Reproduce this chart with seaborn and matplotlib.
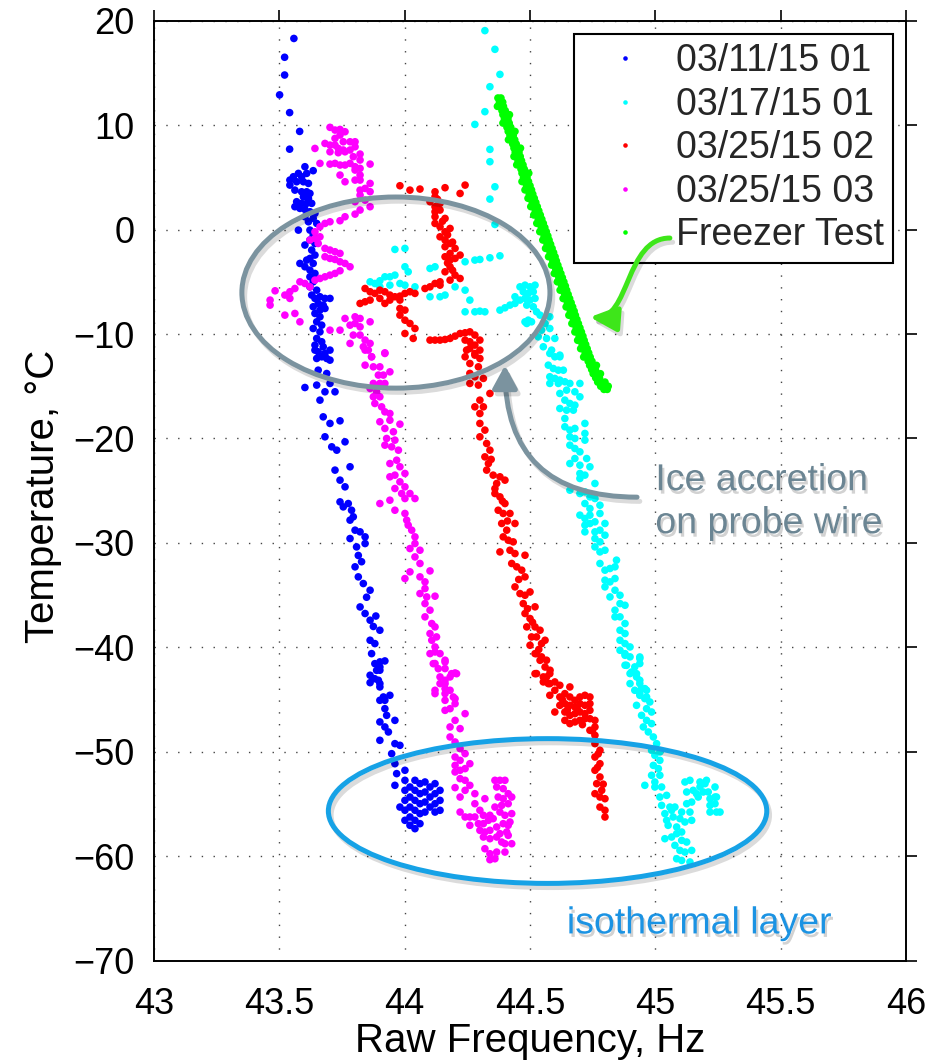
import matplotlib
matplotlib.use("Agg")
import matplotlib.pyplot as plt
import matplotlib.patheffects as pe
from matplotlib.patches import Ellipse, FancyArrowPatch
from matplotlib.path import Path
import pandas as pd
import seaborn as sns

sns.set_theme(style="white")
plt.rcParams['font.family'] = ['Liberation Sans', 'DejaVu Sans']

series_names = ["03/11/15 01", "03/17/15 01", "03/25/15 02", "03/25/15 03", "Freezer Test"]
series_colors = ["#0000ff", "#00ffff", "#ff0000", "#ff00ff", "#00ff00"]

xticks = [43, 43.5, 44, 44.5, 45, 45.5, 46]
xtick_labels = ["43", "43.5", "44", "44.5", "45", "45.5", "46"]
yticks = [-70, -60, -50, -40, -30, -20, -10, 0, 10, 20]
ytick_labels = ["\u221270", "\u221260", "\u221250", "\u221240", "\u221230", "\u221220", "\u221210", "0", "10", "20"]

# ---- 03/11/15 01 (blue): (frequency Hz, temperature C)
blue_pts = [
    (43.558, 18.3), (43.521, 16.5), (43.521, 14.8), (43.501, 12.9), (43.541, 11.2), (43.581, 9.4), (43.541, 7.7),
    (43.602, 6.02), (43.635, 5.64), (43.609, 5.38), (43.576, 5.38), (43.556, 5.06), (43.589, 5.06), (43.542, 4.74),
    (43.569, 4.58), (43.596, 4.58), (43.616, 4.42), (43.542, 4.26), (43.562, 3.78), (43.589, 3.62), (43.609, 3.62),
    (43.622, 3.46), (43.596, 3.14), (43.616, 2.99), (43.569, 2.67), (43.589, 2.51), (43.609, 2.51), (43.629, 2.51),
    (43.562, 2.19), (43.582, 2.03), (43.602, 1.93), (43.622, 1.71), (43.642, 1.55), (43.602, 1.23), (43.635, 1.07),
    (43.616, 0.75), (43.649, 0.59), (43.576, -0.05), (43.622, -0.05), (43.635, -0.53),
    (43.622, -1.0), (43.642, -1.33), (43.602, -1.48), (43.629, -1.96), (43.642, -2.44), (43.622, -2.76), (43.609, -2.92),
    (43.582, -3.24), (43.635, -3.24), (43.602, -3.56), (43.622, -3.88), (43.642, -4.2), (43.622, -4.52), (43.635, -5.0),
    (43.622, -5.48), (43.649, -5.8), (43.629, -6.27), (43.642, -6.59), (43.662, -6.43), (43.682, -6.59), (43.702, -6.59),
    (43.655, -7.07), (43.675, -7.23), (43.635, -7.39), (43.662, -7.71), (43.682, -7.55), (43.642, -8.03), (43.662, -8.35),
    (43.649, -8.83), (43.669, -9.15), (43.635, -9.47), (43.662, -9.79), (43.649, -10.42), (43.669, -10.74), (43.642, -11.06),
    (43.675, -11.22), (43.655, -11.7), (43.682, -11.86), (43.702, -11.54), (43.649, -12.34), (43.689, -12.34),
    (43.642, -11.54), (43.669, -12.18), (43.702, -12.5), (43.655, -13.46), (43.689, -13.78), (43.702, -14.73),
    (43.649, -14.89), (43.682, -15.53), (43.722, -15.53), (43.602, -15.12),
    (43.662, -16.33), (43.675, -17.93), (43.702, -18.56), (43.742, -18.31), (43.682, -19.84), (43.709, -20.80),
    (43.729, -21.12), (43.762, -20.32), (43.782, -22.71), (43.722, -23.03), (43.742, -23.99), (43.762, -24.63),
    (43.742, -26.07), (43.755, -26.55), (43.775, -26.23), (43.788, -26.87), (43.782, -27.82), (43.802, -28.78),
    (43.822, -28.94), (43.842, -29.42), (43.782, -29.58), (43.808, -30.38), (43.842, -30.06), (43.802, -32.29),
    (43.815, -33.25), (43.835, -33.89), (43.862, -34.53), (43.822, -36.13), (43.842, -36.76), (43.862, -37.40),
    (43.901, -38.36), (43.862, -39.32), (43.881, -39.64), (43.868, -40.6), (43.901, -41.39), (43.921, -41.3),
    (43.862, -42.67), (43.901, -42.19), (43.901, -43.47), (43.915, -44.75), (43.941, -44.59),
    (43.795, -27.5), (43.815, -31.2), (43.828, -31.8), (43.848, -35.2), (43.875, -38.0), (43.885, -37.0), (43.88, -43.0),
    (43.881, -41.56), (43.901, -41.88), (43.888, -42.2), (43.895, -43.15), (43.862, -43.38), (43.901, -43.79),
    (43.901, -45.07), (43.921, -45.07), (43.921, -45.87), (43.928, -46.51), (43.901, -47.14), (43.961, -46.99),
    (43.921, -47.62), (43.935, -48.1), (43.901, -48.9), (43.961, -49.22), (43.981, -49.38), (43.948, -50.18),
    (43.961, -51.14), (43.968, -52.09), (43.961, -53.21),
    (44.001, -51.77), (44.001, -52.73), (44.001, -53.69), (44.001, -54.65), (44.001, -55.6), (44.001, -56.56),
    (43.981, -55.29), (44.021, -53.37), (44.021, -54.33), (44.021, -55.29), (44.021, -56.24), (44.021, -57.04),
    (44.041, -52.73), (44.041, -53.69), (44.041, -54.65), (44.041, -55.6), (44.041, -56.56), (44.041, -57.36),
    (44.061, -53.05), (44.061, -54.01), (44.061, -54.97), (44.061, -55.92), (44.061, -56.88),
    (44.081, -52.89), (44.081, -53.85), (44.081, -54.81), (44.081, -55.77),
    (44.101, -53.37), (44.101, -54.33), (44.101, -55.29),
    (44.121, -53.05), (44.121, -54.01), (44.121, -54.97), (44.121, -55.77),
    (44.141, -53.69), (44.141, -54.65), (44.141, -55.6),
]

# ---- 03/17/15 01 (cyan)
cyan_pts = [
    (44.32, 19.05), (44.36, 17.26), (44.38, 14.86), (44.34, 13.68), (44.32, 11.29), (44.28, 10.07), (44.34, 7.68),
    (44.34, 6.5), (44.36, 4.10), (44.34, 2.92), (44.36, 0.49),
    (43.961, -1.9), (44.001, -1.8), (44.241, -3.08), (44.28, -2.92), (44.30, -2.86), (44.34, -2.7), (44.38, -2.51),
    (44.001, -3.56), (44.014, -4.04), (44.101, -3.72), (44.121, -3.56), (43.862, -5.0), (43.901, -4.9), (43.921, -4.52),
    (43.941, -4.52), (43.961, -4.36), (43.901, -5.48), (43.941, -5.32), (43.981, -5.16), (44.001, -5.32), (44.041, -5.48),
    (43.881, -5.16), (44.101, -6.43), (44.141, -6.43), (44.161, -6.27), (44.201, -5.48), (44.241, -5.8), (44.26, -6.75),
    (44.241, -7.87), (44.28, -7.87), (44.30, -7.81), (44.32, -7.87), (44.38, -7.71), (44.4, -7.49), (44.42, -7.23),
    (44.44, -7.07), (44.46, -6.75), (44.487, -8.99), (44.506, -8.83),
    (44.46, -5.48), (44.48, -5.32), (44.5, -5.48), (44.52, -5.32), (44.473, -5.95), (44.493, -6.11), (44.513, -5.95),
    (44.48, -6.59), (44.5, -6.75), (44.52, -6.59), (44.487, -7.23), (44.513, -7.39), (44.526, -7.87), (44.44, -6.43),
    (44.493, -8.67), (44.48, -8.83), (44.54, -8.19), (44.579, -8.35), (44.56, -8.99), (44.546, -9.63), (44.579, -9.47),
    (44.533, -10.27), (44.566, -10.42), (44.599, -10.42), (44.553, -11.22), (44.586, -11.54), (44.619, -12.18),
    (44.579, -11.86), (44.599, -12.18), (44.619, -12.02), (44.573, -12.98), (44.593, -13.3), (44.613, -13.46),
    (44.633, -13.46), (44.579, -14.09), (44.599, -14.25), (44.619, -14.41), (44.579, -14.73), (44.613, -14.73),
    (44.639, -14.57), (44.659, -14.73), (44.699, -14.73), (44.619, -15.69), (44.646, -15.37), (44.679, -15.53),
    (44.639, -16.33), (44.699, -16.01), (44.659, -16.65), (44.679, -16.81), (44.619, -17.13), (44.646, -17.29),
    (44.673, -17.29), (44.639, -18.09), (44.719, -18.56), (44.639, -18.88), (44.659, -19.2), (44.679, -19.04),
    (44.659, -19.84), (44.679, -20.0), (44.719, -19.52), (44.719, -20.16), (44.659, -20.64), (44.679, -20.96),
    (44.699, -21.28), (44.726, -21.92), (44.679, -21.92), (44.659, -22.4), (44.699, -22.56), (44.739, -22.71),
    (44.699, -23.35), (44.719, -23.51), (44.699, -23.83), (44.759, -24.31), (44.659, -24.95), (44.699, -25.27),
    (44.719, -25.11), (44.739, -25.59), (44.759, -25.75), (44.779, -26.39), (44.719, -26.23), (44.739, -26.71),
    (44.699, -27.34), (44.719, -27.66), (44.739, -27.34), (44.779, -27.18), (44.719, -28.3), (44.739, -28.14),
    (44.759, -27.98), (44.799, -28.14), (44.719, -28.94), (44.759, -28.94), (44.779, -28.78), (44.799, -29.26),
    (44.759, -29.58), (44.779, -29.9), (44.759, -30.38), (44.779, -30.86), (44.799, -30.7), (44.779, -31.97),
    (44.799, -32.61), (44.819, -32.45), (44.839, -32.29), (44.845, -31.65), (44.799, -33.57), (44.819, -33.73),
    (44.839, -33.41), (44.799, -34.21), (44.839, -34.53), (44.819, -35.17), (44.859, -35.01), (44.859, -35.81),
    (44.839, -36.44), (44.879, -35.97), (44.839, -37.08), (44.859, -37.08), (44.879, -37.72), (44.859, -38.36),
    (44.879, -38.68), (44.859, -39.32), (44.879, -39.64), (44.899, -39.96), (44.879, -40.6), (44.899, -40.91),
    (44.938, -41.07), (44.879, -41.71), (44.918, -41.87), (44.938, -41.55), (44.899, -42.51), (44.925, -42.83),
    (44.899, -43.47), (44.938, -43.47), (44.918, -44.11), (44.938, -44.43), (44.958, -43.95), (44.965, -44.75),
    (44.859, -40.28), (44.879, -40.76), (44.938, -40.92), (44.885, -41.72), (44.905, -42.36), (44.925, -42.52),
    (44.938, -43.15), (44.945, -43.95), (44.965, -44.11), (44.938, -44.59), (44.958, -44.91), (44.925, -45.55),
    (44.978, -45.23), (44.965, -45.87), (44.945, -46.51), (44.985, -46.19), (44.965, -46.99), (44.985, -47.3),
    (44.952, -47.62), (44.972, -48.1), (44.992, -48.58), (45.005, -49.22), (44.985, -49.86), (45.018, -50.02),
    (44.998, -50.34), (45.018, -50.82), (44.992, -51.3), (45.012, -51.61), (44.985, -52.25), (45.018, -52.25),
    (44.958, -53.21), (44.998, -52.89), (44.998, -53.37), (45.025, -53.37), (45.018, -54.33), (45.045, -54.17),
    (45.025, -55.13), (45.058, -55.29), (45.038, -55.92), (45.065, -55.6), (45.078, -55.29), (45.105, -55.77),
    (45.045, -56.56), (45.071, -56.24), (45.098, -56.4), (45.051, -57.04), (45.085, -57.2), (45.118, -56.72),
    (45.138, -55.77), (45.145, -56.56), (45.038, -58.32), (45.065, -58.16), (45.085, -57.84), (45.105, -57.68),
    (45.105, -58.48), (45.125, -58.64), (45.078, -58.96), (45.098, -59.44), (45.118, -59.6), (45.145, -59.44),
    (45.085, -60.24), (45.105, -60.4), (45.138, -60.55),
    (45.118, -52.89), (45.138, -52.73), (45.151, -53.69), (45.178, -53.37), (45.178, -52.89), (45.198, -53.05),
    (45.211, -53.85), (45.238, -53.37), (45.125, -53.85), (45.164, -54.01), (45.191, -53.85), (45.218, -54.49),
    (45.238, -54.33), (45.218, -55.13), (45.238, -54.97), (45.218, -55.77), (45.244, -55.77), (45.258, -55.77),
    (45.145, -54.81), (45.125, -54.97), (45.171, -54.33), (45.204, -52.73), (45.244, -54.33),
]

# ---- 03/25/15 02 (red)
red_pts = [
    (43.981, 4.2), (44.021, 3.78), (44.061, 3.88), (44.161, 4.01), (44.221, 3.46), (44.241, 4.26), (44.121, 3.62),
    (44.121, 3.14), (44.101, 2.67), (44.121, 2.19), (44.141, 2.51), (44.121, 1.71), (44.141, 1.87), (44.121, 1.23),
    (44.161, 1.07), (44.121, 0.59), (44.141, 0.27), (44.181, 0.11), (44.161, -0.21), (44.141, -0.69), (44.161, -1.0),
    (44.181, -1.33), (44.161, -1.64), (44.201, -1.8), (44.181, -2.28), (44.221, -2.44), (44.161, -2.6), (44.181, -2.92),
    (44.201, -2.76), (44.181, -3.56), (44.161, -4.04), (44.201, -4.36), (44.221, -4.68), (44.181, -4.84), (44.141, -5.0),
    (44.121, -5.16), (44.101, -5.48), (44.081, -5.64), (44.141, -5.32),
    (44.131, 2.9), (44.151, 0.8), (44.171, -0.5), (44.191, -1.2), (44.171, -3.2), (44.191, -3.9),
    (43.842, -5.64), (43.862, -5.95), (43.881, -6.11), (43.901, -5.8), (43.921, -5.95), (43.941, -6.27), (43.961, -6.43),
    (43.981, -6.37), (44.001, -6.11), (44.021, -5.95), (44.041, -6.11), (43.822, -7.07), (43.842, -6.91), (43.862, -6.75),
    (43.901, -6.59), (43.921, -7.07), (43.941, -6.75), (43.981, -6.75), (43.981, -7.55), (44.001, -7.71), (43.981, -8.19),
    (44.001, -8.67), (44.021, -8.99), (44.041, -9.47), (44.001, -9.95), (44.034, -10.42), (44.101, -10.58),
    (44.121, -10.58), (44.141, -10.58), (44.161, -10.52), (44.181, -10.42), (44.201, -10.2), (44.221, -9.95),
    (44.241, -9.88), (44.260, -9.79), (44.28, -10.1), (44.241, -10.58), (44.26, -10.74), (44.28, -11.06), (44.30, -10.58),
    (44.26, -11.38), (44.28, -11.86), (44.30, -11.54), (44.241, -12.18), (44.30, -12.34),
    (44.247, -11.54), (44.28, -12.02), (44.26, -12.82), (44.294, -13.14), (44.26, -13.77), (44.28, -14.09),
    (44.314, -14.25), (44.26, -14.73), (44.294, -14.89), (44.34, -15.69), (44.30, -16.33), (44.28, -16.97),
    (44.314, -16.97), (44.30, -17.61), (44.30, -18.56), (44.32, -19.2), (44.30, -19.84), (44.327, -20.48),
    (44.34, -21.12), (44.32, -21.76), (44.334, -22.4), (44.327, -23.03), (44.353, -23.51), (44.38, -23.67),
    (44.4, -23.99), (44.367, -24.31), (44.36, -25.27), (44.38, -25.59), (44.4, -26.23), (44.373, -26.87),
    (44.393, -27.18), (44.42, -27.18), (44.44, -28.14), (44.387, -28.14), (44.407, -28.78), (44.393, -29.42),
    (44.413, -29.74), (44.433, -29.9), (44.38, -30.86), (44.42, -30.7), (44.44, -31.02), (44.48, -31.18),
    (44.427, -31.97), (44.447, -32.29), (44.467, -32.61), (44.48, -33.25), (44.44, -34.21), (44.46, -34.85),
    (44.48, -35.01), (44.5, -34.69), (44.473, -35.81), (44.52, -36.12), (44.48, -36.76), (44.5, -37.24),
    (44.487, -38.04), (44.52, -38.04), (44.54, -38.36), (44.506, -39.0), (44.526, -39.0), (44.5, -39.8),
    (44.546, -39.64), (44.56, -39.32), (44.526, -40.6), (44.546, -40.91), (44.566, -41.23), (44.526, -42.51),
    (44.553, -42.83), (44.58, -42.19), (44.573, -43.47),
    (44.345, -22.0), (44.36, -24.8), (44.39, -26.0), (44.41, -27.9), (44.455, -33.5), (44.49, -36.3), (44.51, -37.6),
    (44.535, -40.2),
    (44.52, -40.6), (44.54, -41.24), (44.56, -41.88), (44.52, -42.52), (44.566, -42.83), (44.579, -42.52),
    (44.553, -43.31), (44.579, -43.47), (44.599, -43.31), (44.619, -43.63), (44.579, -44.59), (44.599, -44.11),
    (44.619, -44.75), (44.639, -44.43), (44.659, -43.79), (44.659, -44.75), (44.679, -45.07), (44.699, -44.75),
    (44.719, -44.59), (44.739, -44.75), (44.619, -45.55), (44.639, -45.39), (44.659, -45.55), (44.679, -45.71),
    (44.699, -45.39), (44.719, -45.55), (44.739, -45.39), (44.599, -46.19), (44.639, -46.19), (44.659, -46.51),
    (44.679, -46.35), (44.699, -46.19), (44.719, -46.35), (44.739, -46.03), (44.639, -46.99), (44.659, -47.3),
    (44.679, -47.14), (44.699, -46.99), (44.719, -46.83), (44.739, -46.83), (44.759, -46.99), (44.759, -47.62),
    (44.739, -47.94), (44.759, -48.42), (44.759, -49.22), (44.779, -49.86), (44.759, -50.5), (44.779, -51.14),
    (44.759, -51.77), (44.779, -52.41), (44.766, -53.05), (44.786, -53.69), (44.759, -54.01), (44.779, -54.33),
    (44.799, -54.49), (44.779, -55.29), (44.799, -55.6), (44.799, -56.24),
    (44.749, -48.0), (44.772, -50.2), (44.769, -51.5), (44.792, -53.1), (44.689, -45.9), (44.709, -47.4),
    (44.629, -45.0), (44.649, -46.0),
]

# ---- 03/25/15 03 (magenta)
magenta_pts = [
    (43.702, 9.79), (43.722, 9.53), (43.742, 9.59), (43.762, 9.37), (43.722, 8.73), (43.742, 9.05), (43.755, 8.41),
    (43.782, 8.41), (43.802, 8.41), (43.682, 8.25), (43.702, 8.09), (43.722, 8.09), (43.735, 7.77), (43.755, 7.62),
    (43.782, 7.62), (43.802, 7.93), (43.642, 7.77), (43.702, 7.45), (43.735, 7.36), (43.762, 7.45), (43.795, 6.98),
    (43.822, 7.23), (43.822, 6.66), (43.722, 6.34), (43.702, 6.27), (43.662, 6.34), (43.742, 6.18), (43.762, 6.18),
    (43.782, 6.34), (43.802, 6.02), (43.822, 5.86), (43.862, 6.27), (43.742, 5.22), (43.762, 4.58), (43.802, 5.7),
    (43.822, 5.22), (43.802, 4.74), (43.822, 4.74), (43.862, 4.42), (43.822, 3.78), (43.842, 3.94), (43.822, 3.3),
    (43.862, 3.63), (43.802, 2.67), (43.842, 2.82), (43.862, 2.19), (43.822, 1.87), (43.802, 1.48), (43.762, 1.23),
    (43.742, 0.85), (43.702, 0.75), (43.682, 0.59), (43.662, 0.27), (43.642, -0.21), (43.622, -1.0), (43.642, -0.85),
    (43.662, -0.69), (43.655, -1.33), (43.682, -1.8), (43.702, -1.96), (43.722, -2.12), (43.742, -2.28),
    (43.682, -2.6), (43.702, -2.76), (43.722, -2.86), (43.742, -3.08), (43.762, -3.24), (43.782, -3.56),
    (43.742, -3.94), (43.722, -4.2), (43.702, -4.36), (43.682, -4.52), (43.662, -4.68), (43.642, -4.84),
    (43.602, -5.16), (43.582, -5.0), (43.562, -5.64), (43.542, -5.95), (43.522, -6.27), (43.483, -5.86),
    (43.463, -6.75), (43.463, -7.23), (43.542, -6.59), (43.522, -8.19), (43.562, -8.03), (43.582, -8.83),
    (43.622, -5.48), (43.702, -9.63), (43.742, -9.63), (43.762, -8.51), (43.782, -9.15), (43.802, -8.35),
    (43.802, -8.99), (43.822, -8.51), (43.822, -9.31), (43.862, -8.83), (43.795, -10.1), (43.822, -10.1),
    (43.842, -10.58), (43.862, -10.9), (43.835, -11.22), (43.855, -11.54), (43.868, -12.18), (43.921, -11.8),
    (43.782, -10.9),
    (43.842, -11.54), (43.868, -12.18), (43.921, -11.86), (43.842, -12.98), (43.875, -13.14), (43.901, -13.14),
    (43.941, -13.62), (43.895, -13.93), (43.915, -13.93), (43.875, -14.73), (43.901, -14.73), (43.921, -14.73),
    (43.862, -15.21), (43.888, -15.53), (43.875, -16.01), (43.901, -16.01), (43.881, -16.65), (43.908, -16.97),
    (43.921, -17.45), (43.941, -17.61), (43.901, -18.4), (43.941, -18.25), (43.981, -18.63), (43.921, -19.04),
    (43.955, -19.36), (43.928, -20.0), (43.961, -20.16), (43.921, -20.64), (43.948, -20.8), (43.975, -21.12),
    (43.968, -22.08), (43.941, -22.4), (43.981, -22.71), (43.961, -23.51), (43.941, -23.67), (44.001, -23.35),
    (43.981, -24.15), (44.001, -24.63), (43.961, -24.79), (43.988, -25.27), (44.021, -25.27), (44.041, -25.75),
    (44.001, -25.75), (43.941, -25.91), (43.901, -26.23), (43.961, -26.87), (44.001, -27.18), (44.008, -27.82),
    (44.014, -28.3), (44.028, -28.78), (44.041, -29.42), (44.041, -30.06), (44.021, -30.54), (44.061, -30.7),
    (44.041, -31.34), (44.061, -31.97), (44.021, -32.77), (44.101, -32.68), (44.001, -33.41), (44.061, -33.25),
    (44.081, -33.73), (44.081, -34.37), (44.061, -34.85), (44.088, -35.17), (44.121, -35.1), (44.081, -35.81),
    (44.101, -36.44), (44.081, -37.08), (44.108, -37.72), (44.121, -38.04), (44.101, -38.68), (44.127, -39.0),
    (44.108, -39.32), (44.121, -39.96), (44.141, -40.6), (44.121, -41.55), (44.161, -41.23), (44.161, -42.03),
    (44.141, -42.83), (44.181, -42.83), (44.201, -42.45), (44.161, -43.47), (44.121, -44.11), (44.161, -44.43),
    (44.194, -44.75),
    (44.101, -40.6), (44.121, -40.44), (44.114, -41.56), (44.161, -41.4), (44.134, -42.04), (44.187, -42.52),
    (44.207, -42.52), (44.161, -43.15), (44.141, -43.47), (44.121, -44.43), (44.161, -43.95), (44.181, -44.11),
    (44.161, -45.07), (44.201, -44.91), (44.201, -45.39), (44.181, -45.87), (44.161, -46.03), (44.241, -46.35),
    (44.201, -46.99), (44.181, -47.62), (44.221, -47.78), (44.181, -48.58), (44.201, -49.06), (44.221, -49.7),
    (44.241, -50.18), (44.201, -50.5), (44.221, -50.82), (44.260, -51.14), (44.201, -51.3), (44.221, -51.77),
    (44.241, -51.61), (44.201, -51.93), (44.221, -52.57), (44.241, -52.73), (44.260, -53.21), (44.201, -53.43),
    (44.241, -53.69), (44.28, -54.01), (44.221, -54.33), (44.28, -54.97), (44.32, -54.49), (44.30, -55.6),
    (44.221, -55.77), (44.241, -56.24), (44.260, -56.24), (44.28, -56.24), (44.314, -56.08), (44.34, -56.08),
    (44.260, -57.04), (44.294, -56.88), (44.314, -56.88), (44.334, -56.56), (44.353, -56.4), (44.30, -57.52),
    (44.32, -57.68), (44.34, -57.52), (44.314, -58.16), (44.34, -58.32), (44.367, -58.16), (44.32, -59.28),
    (44.34, -59.76), (44.367, -59.6), (44.4, -59.6), (44.34, -60.33), (44.36, -60.24), (44.36, -52.73),
    (44.38, -52.73), (44.4, -52.73), (44.367, -53.37), (44.393, -53.53), (44.413, -54.01), (44.373, -54.33),
    (44.393, -54.49), (44.427, -54.33), (44.36, -55.29), (44.387, -55.13), (44.413, -54.97), (44.38, -55.77),
    (44.4, -56.08), (44.427, -55.92), (44.393, -56.88), (44.413, -57.04), (44.367, -57.2), (44.38, -57.84),
    (44.407, -57.68), (44.427, -58.8), (44.4, -58.8), (44.387, -58.64), (44.413, -58.0), (44.42, -56.72),
]

# ---- Freezer Test (green)
green_pts = [
    (44.372, 12.6), (44.384, 12.6), (44.378, 12.2), (44.391, 12.2), (44.381, 11.8), (44.394, 11.8), (44.370, 11.8),
    (44.388, 11.4), (44.401, 11.4), (44.392, 11.0), (44.406, 11.0), (44.418, 11.0), (44.398, 10.6), (44.412, 10.6),
    (44.404, 10.2), (44.417, 10.2), (44.392, 10.2), (44.408, 9.8), (44.423, 9.8), (44.413, 9.4), (44.427, 9.4),
    (44.440, 9.4), (44.420, 9.0), (44.433, 9.0), (44.425, 8.6), (44.439, 8.6), (44.414, 8.6), (44.431, 8.2),
    (44.445, 8.2), (44.436, 7.8), (44.450, 7.8), (44.462, 7.8), (44.441, 7.4), (44.456, 7.4), (44.447, 7.0),
    (44.461, 7.0), (44.436, 7.0), (44.452, 6.6), (44.466, 6.6), (44.458, 6.2), (44.472, 6.2), (44.447, 6.2),
    (44.464, 5.8), (44.477, 5.8), (44.468, 5.4), (44.482, 5.4), (44.495, 5.4), (44.474, 5.0), (44.488, 5.0),
    (44.480, 4.6), (44.494, 4.6), (44.468, 4.6), (44.486, 4.2), (44.500, 4.2), (44.491, 3.8), (44.506, 3.8),
    (44.480, 3.8), (44.497, 3.4), (44.511, 3.4), (44.503, 3.0), (44.517, 3.0), (44.492, 3.0), (44.509, 2.6),
    (44.523, 2.6), (44.515, 2.2), (44.529, 2.2), (44.503, 2.2), (44.521, 1.8), (44.535, 1.8), (44.527, 1.4),
    (44.541, 1.4), (44.515, 1.4), (44.533, 1.0), (44.547, 1.0), (44.539, 0.6), (44.553, 0.6), (44.527, 0.6),
    (44.545, 0.2), (44.559, 0.2), (44.550, -0.2), (44.565, -0.2), (44.539, -0.2), (44.556, -0.6), (44.571, -0.6),
    (44.562, -1.0), (44.576, -1.0), (44.551, -1.0), (44.568, -1.4), (44.582, -1.4), (44.574, -1.8), (44.588, -1.8),
    (44.562, -1.8), (44.580, -2.2), (44.594, -2.2), (44.585, -2.6), (44.600, -2.6), (44.574, -2.6), (44.591, -3.0),
    (44.605, -3.0), (44.597, -3.4), (44.611, -3.4), (44.586, -3.4), (44.603, -3.8), (44.617, -3.8), (44.609, -4.2),
    (44.623, -4.2), (44.597, -4.2), (44.615, -4.6), (44.629, -4.6), (44.620, -5.0), (44.635, -5.0), (44.609, -5.0),
    (44.626, -5.4), (44.641, -5.4), (44.632, -5.8), (44.646, -5.8), (44.620, -5.8), (44.638, -6.2), (44.652, -6.2),
    (44.644, -6.6), (44.658, -6.6), (44.632, -6.6), (44.649, -7.0), (44.664, -7.0), (44.655, -7.4), (44.670, -7.4),
    (44.644, -7.4), (44.661, -7.8), (44.676, -7.8), (44.667, -8.2), (44.681, -8.2), (44.655, -8.2), (44.673, -8.6),
    (44.687, -8.6), (44.679, -9.0), (44.693, -9.0), (44.667, -9.0), (44.684, -9.4), (44.699, -9.4), (44.690, -9.8),
    (44.705, -9.8), (44.679, -9.8), (44.696, -10.2), (44.711, -10.2), (44.702, -10.6), (44.716, -10.6), (44.690, -10.6),
    (44.708, -11.0), (44.722, -11.0), (44.714, -11.4), (44.728, -11.4), (44.702, -11.4), (44.720, -11.8), (44.734, -11.8),
    (44.726, -12.2), (44.740, -12.2), (44.714, -12.2), (44.732, -12.6), (44.747, -12.6), (44.738, -13.0), (44.753, -13.0),
    (44.765, -13.0), (44.746, -13.4), (44.761, -13.4), (44.752, -13.8), (44.768, -13.8), (44.781, -13.8), (44.762, -14.2),
    (44.777, -14.2), (44.770, -14.6), (44.786, -14.6), (44.799, -14.6), (44.782, -15.0), (44.798, -15.0), (44.812, -15.0),
    (44.795, -15.3), (44.808, -15.3),
]

all_pts = [blue_pts, cyan_pts, red_pts, magenta_pts, green_pts]
rows = []
for name, pts in zip(series_names, all_pts):
    for fx, tc in pts:
        rows.append((name, fx, tc))
df = pd.DataFrame(rows, columns=["series", "freq", "temp"])

fig = plt.figure(figsize=(9.38, 10.62), dpi=100)
ax = fig.add_axes([0.1642, 0.0954, 0.8017, 0.8851])

sns.scatterplot(data=df, x="freq", y="temp", hue="series", hue_order=series_names,
                palette=series_colors, s=30, linewidth=0, edgecolor="none", ax=ax,
                legend=True, zorder=3)

ax.set_xlim(43, 46)
ax.set_ylim(-70, 20)
ax.set_xticks(xticks)
ax.set_xticklabels(xtick_labels)
ax.set_yticks(yticks)
ax.set_yticklabels(ytick_labels)
ax.tick_params(axis="both", direction="out", length=8, width=1.2, color="black",
               labelsize=26, top=True, right=True, labelcolor="black")
ax.tick_params(axis="x", pad=11)
ax.tick_params(axis="y", pad=6)
for sp in ax.spines.values():
    sp.set_visible(True)
    sp.set_color("black")
    sp.set_linewidth(1.4)
ax.grid(True, linestyle=(0, (1, 7.5)), color="#444444", linewidth=1.0)
ax.set_axisbelow(True)

ax.set_xlabel("Raw Frequency, Hz", fontsize=29, color="black")
ax.set_ylabel("Temperature, \u00b0C", fontsize=29, color="black")
ax.xaxis.set_label_coords(0.5, -0.0655)
ax.yaxis.set_label_coords(-0.122, 0.494)

handles, labels = ax.get_legend_handles_labels()
if ax.get_legend() is not None:
    ax.get_legend().remove()
leg = ax.legend(handles, labels, loc="upper right", bbox_to_anchor=(0.9827, 0.9859),
                borderaxespad=0, fontsize=27, frameon=True, fancybox=False,
                edgecolor="black", framealpha=1, markerscale=0.6,
                handlelength=2.2, handletextpad=0.25, labelspacing=0.2, borderpad=0.25)
leg.get_frame().set_linewidth(1.5)
leg.set_zorder(5)

shadow = [pe.SimpleLineShadow(offset=(2, -3), shadow_color="#000000", alpha=0.14), pe.Normal()]

gray = "#7b939f"
e1 = Ellipse((43.965, -6.03), width=1.229, height=18.3, fill=False, edgecolor=gray,
             linewidth=3.6, zorder=5, path_effects=shadow)
ax.add_patch(e1)
e2 = Ellipse((44.570, -55.67), width=1.749, height=13.86, fill=False, edgecolor="#16a2e6",
             linewidth=3.6, zorder=5, path_effects=shadow)
ax.add_patch(e2)

gray_arrow = FancyArrowPatch(path=Path([(44.927, -25.62), (44.40, -25.62), (44.40, -13.0)],
                                       [Path.MOVETO, Path.CURVE3, Path.CURVE3]),
                             arrowstyle="-|>,head_length=0.55,head_width=0.3", mutation_scale=25,
                             color=gray, linewidth=3.6, zorder=6, path_effects=shadow)
ax.add_patch(gray_arrow)

green_arrow = FancyArrowPatch(path=Path([(45.058, -0.81), (44.879, -0.81), (44.899, -8.67), (44.739, -8.38)],
                                        [Path.MOVETO, Path.CURVE4, Path.CURVE4, Path.CURVE4]),
                              arrowstyle="-|>,head_length=0.65,head_width=0.3", mutation_scale=25,
                              color="#3ee61a", linewidth=3.6, zorder=6, path_effects=shadow)
ax.add_patch(green_arrow)

tshadow = [pe.withSimplePatchShadow(offset=(1.5, -2.5), shadow_rgbFace="#333333", alpha=0.22)]
ax.text(45.0, -24.95, "Ice accretion", fontsize=27, color="#6b8593", ha="left", va="baseline",
        zorder=7, path_effects=tshadow)
ax.text(45.0, -29.07, "on probe wire", fontsize=27, color="#6b8593", ha="left", va="baseline",
        zorder=7, path_effects=tshadow)
ax.text(44.647, -67.39, "isothermal layer", fontsize=27, color="#1b93e3", ha="left", va="baseline",
        zorder=7, path_effects=tshadow)

fig.savefig("out.png", dpi=100)
